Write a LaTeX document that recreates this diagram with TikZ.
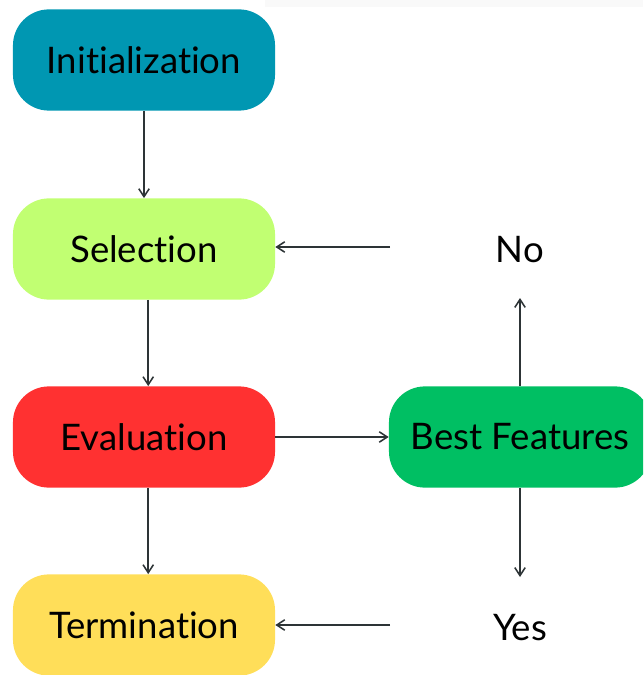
\documentclass[tikz,border=0pt]{standalone}
\usepackage{fontspec}
\setmainfont{Lato}[RawFeature={-liga}]
\usetikzlibrary{arrows.meta}

\definecolor{initcol}{HTML}{0097B2}
\definecolor{selcol}{HTML}{C1FF72}
\definecolor{evalcol}{HTML}{FF3131}
\definecolor{bestcol}{HTML}{00BF63}
\definecolor{termcol}{HTML}{FFDE59}
\definecolor{linecol}{HTML}{2D3436}

\tikzset{
  stage/.style={rounded corners=0.9cm, minimum width=6.55cm, minimum height=2.53cm,
    inner sep=0pt, font=\fontsize{26}{30}\selectfont, text=black},
  answer/.style={font=\fontsize{26}{30}\selectfont, text=black},
  flow/.style={draw=linecol, line width=1.1pt, -{Straight Barb[length=2mm,width=2.6mm]}}
}

\begin{document}
\begin{tikzpicture}[x=0.025cm, y=-0.025cm]
    % Frame
    \useasboundingbox (0,0) rectangle (643,675);
    \clip (0,0) rectangle (643,675);
    \fill[gray!5] (265,0) rectangle (643,7);

    % Stages
    \node[stage, fill=initcol] (init) at (144,60) {Initialization};
    \node[stage, fill=selcol]  (sel)  at (144,249) {Selection};
    \node[stage, fill=evalcol] (eval) at (144,437) {Evaluation};
    \node[stage, fill=termcol] (term) at (144,625) {Termination};
    \node[stage, fill=bestcol] (best) at (520,437) {Best Features};

    % Decision labels
    \node[answer] (no)  at (520,250) {No};
    \node[answer] (yes) at (520,628) {Yes};
    \coordinate (noin)   at (390,247);
    \coordinate (noout)  at (520,298);
    \coordinate (yesin)  at (390,625);
    \coordinate (yesout) at (520,577);

    % Main flow
    \draw[flow] (init) -- (sel);
    \draw[flow] ([xshift=3]sel.south) -- ([xshift=3]eval.north);
    \draw[flow] ([xshift=3]eval.south) -- ([xshift=3]term.north);
    \draw[flow] (eval.east) -- (best.west);

    % Feedback
    \draw[flow] (best.north) -- (noout);
    \draw[flow] (noin) -- (sel.east |- noin);
    \draw[flow] (best.south) -- (yesout);
    \draw[flow] (yesin) -- (term.east |- yesin);
\end{tikzpicture}
\end{document}
